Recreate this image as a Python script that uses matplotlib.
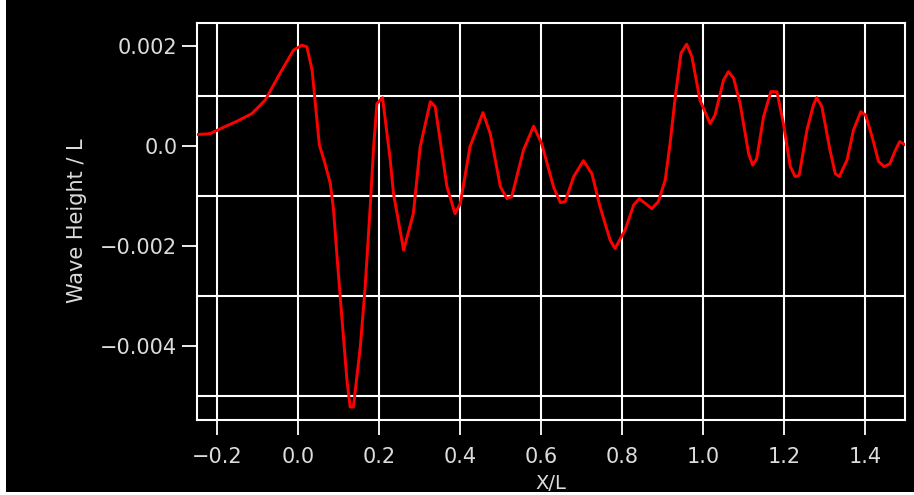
import matplotlib
matplotlib.use("Agg")
import matplotlib.pyplot as plt
from matplotlib.patches import Rectangle

# wave profile along the hull, X/L vs wave height / L (in units of 1e-3)
x_over_l = [-0.253, -0.217, -0.191, -0.150, -0.114, -0.081, -0.044, -0.011, 0.010, 0.022,
            0.035, 0.043, 0.053, 0.067, 0.080, 0.088, 0.096, 0.109, 0.121, 0.129,
            0.137, 0.154, 0.166, 0.179, 0.187, 0.195, 0.209, 0.228, 0.236, 0.261,
            0.285, 0.302, 0.327, 0.339, 0.368, 0.388, 0.401, 0.425, 0.457, 0.475,
            0.500, 0.516, 0.528, 0.557, 0.582, 0.602, 0.631, 0.648, 0.660, 0.681,
            0.705, 0.726, 0.746, 0.771, 0.783, 0.808, 0.829, 0.843, 0.874, 0.890,
            0.907, 0.919, 0.932, 0.946, 0.960, 0.973, 0.993, 1.018, 1.030, 1.051,
            1.063, 1.076, 1.092, 1.113, 1.123, 1.133, 1.150, 1.168, 1.183, 1.199,
            1.216, 1.228, 1.238, 1.257, 1.273, 1.281, 1.294, 1.314, 1.327, 1.337,
            1.356, 1.372, 1.390, 1.402, 1.418, 1.434, 1.448, 1.462, 1.474, 1.486,
            1.501]
wave_e3 = [0.23, 0.25, 0.35, 0.50, 0.65, 0.92, 1.46, 1.92, 2.02, 1.99,
           1.52, 0.85, 0.02, -0.35, -0.75, -1.28, -2.15, -3.48, -4.68, -5.22,
           -5.22, -4.02, -2.82, -1.15, -0.01, 0.85, 0.97, -0.28, -0.95, -2.08,
           -1.35, -0.01, 0.89, 0.79, -0.81, -1.35, -1.15, -0.01, 0.67, 0.25,
           -0.81, -1.05, -1.01, -0.08, 0.40, 0.05, -0.81, -1.13, -1.11, -0.61,
           -0.29, -0.55, -1.21, -1.88, -2.05, -1.68, -1.18, -1.05, -1.25, -1.11,
           -0.68, 0.05, 0.99, 1.86, 2.04, 1.79, 0.92, 0.45, 0.62, 1.32,
           1.49, 1.36, 0.85, -0.15, -0.38, -0.25, 0.59, 1.09, 1.09, 0.45,
           -0.41, -0.61, -0.58, 0.32, 0.82, 0.97, 0.79, -0.08, -0.55, -0.61,
           -0.28, 0.32, 0.69, 0.62, 0.19, -0.31, -0.41, -0.35, -0.11, 0.09,
           0.02]
wave = [v * 1e-3 for v in wave_e3]

xticks = [-0.2, 0.0, 0.2, 0.4, 0.6, 0.8, 1.0, 1.2, 1.4]
xtick_labels = ["\u22120.2", "0.0", "0.2", "0.4", "0.6", "0.8", "1.0", "1.2", "1.4"]
yticks = [0.002, 0.0, -0.002, -0.004]
ytick_labels = ["0.002", "0.0", "\u22120.002", "\u22120.004"]
ygrid = [0.002, 0.001, 0.0, -0.001, -0.002, -0.003, -0.004, -0.005]

W, H = 914, 495
txt = "#dcdcdc"

fig = plt.figure(figsize=(W / 100, H / 100), dpi=100, facecolor="white")
fig.patches.append(Rectangle((6 / W, 3 / H), 1, 1, transform=fig.transFigure,
                             facecolor="black", edgecolor="none", zorder=-10))

ax = fig.add_axes([196.7 / W, 1 - 419.5 / H, 708.6 / W, 396.8 / H])
ax.set_facecolor("black")

ax.plot(x_over_l, wave, color="#ff0000", lw=2.1, zorder=3,
        solid_joinstyle="round")

ax.set_xlim(-0.25, 1.50)
ax.set_ylim(-0.00547, 0.00247)

ax.set_xticks(xticks, labels=xtick_labels)
ax.set_yticks(yticks, labels=ytick_labels)
ax.set_yticks(ygrid, minor=True)

ax.grid(True, which="major", axis="x", color="white", lw=1.5)
ax.grid(True, which="minor", axis="y", color="white", lw=1.5)
ax.tick_params(which="minor", length=0)
ax.tick_params(which="major", color="white", width=1.3, length=11,
               labelcolor=txt, labelsize=15)
ax.tick_params(axis="x", pad=9)
ax.tick_params(axis="y", pad=3)

for s in ax.spines.values():
    s.set_color("white")
    s.set_linewidth(1.5)

fig.text(77 / W, 1 - 221 / H, "Wave Height / L", rotation=90, ha="center",
         va="center", color=txt, fontsize=15)
fig.text(551 / W, 1 - 474 / H, "X/L", ha="center", va="top", color=txt,
         fontsize=14)

fig.savefig("out.png", dpi=100, facecolor=fig.get_facecolor())
